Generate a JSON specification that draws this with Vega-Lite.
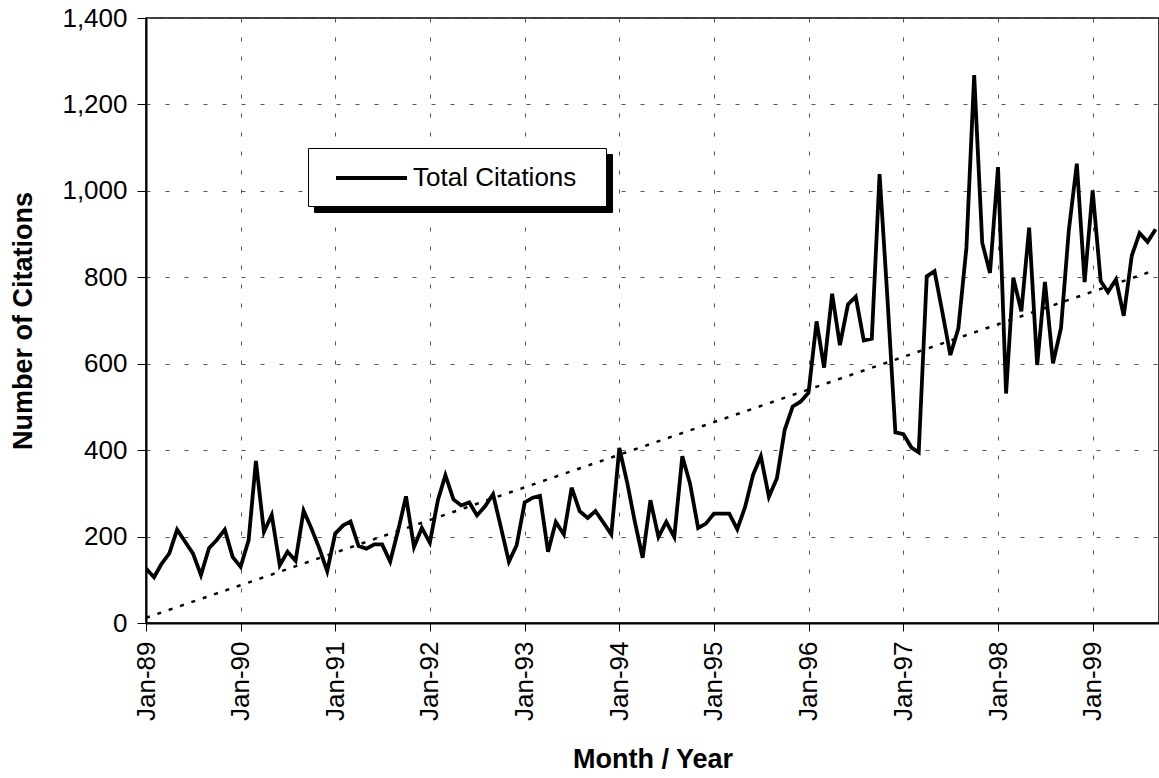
{
  "$schema": "https://vega.github.io/schema/vega-lite/v6.json",
  "width": 1013,
  "height": 605,
  "autosize": {"type": "none"},
  "padding": {"left": 146, "top": 18, "right": 0, "bottom": 155},
  "background": "white",
  "config": {
    "font": "Liberation Sans",
    "view": {"stroke": "black", "strokeWidth": 1.5},
    "axis": {
      "domainColor": "black",
      "domainWidth": 2,
      "tickColor": "black",
      "tickWidth": 1,
      "labelColor": "black",
      "titleColor": "black",
      "labelFont": "Liberation Sans",
      "titleFont": "Liberation Sans",
      "labelFontSize": 26,
      "titleFontSize": 27,
      "titleFontWeight": "bold",
      "grid": true,
      "gridColor": "#555555",
      "gridDash": [4, 15],
      "gridWidth": 1
    }
  },
  "datasets": {
    "citations": [
      {"date": "1989/01/01", "citations": 126},
      {"date": "1989/02/01", "citations": 106},
      {"date": "1989/03/01", "citations": 136},
      {"date": "1989/04/01", "citations": 161},
      {"date": "1989/05/01", "citations": 216},
      {"date": "1989/06/01", "citations": 188},
      {"date": "1989/07/01", "citations": 161},
      {"date": "1989/08/01", "citations": 111},
      {"date": "1989/09/01", "citations": 173},
      {"date": "1989/10/01", "citations": 192},
      {"date": "1989/11/01", "citations": 216},
      {"date": "1989/12/01", "citations": 153},
      {"date": "1990/01/01", "citations": 130},
      {"date": "1990/02/01", "citations": 192},
      {"date": "1990/03/01", "citations": 375},
      {"date": "1990/04/01", "citations": 211},
      {"date": "1990/05/01", "citations": 250},
      {"date": "1990/06/01", "citations": 134},
      {"date": "1990/07/01", "citations": 165},
      {"date": "1990/08/01", "citations": 144},
      {"date": "1990/09/01", "citations": 260},
      {"date": "1990/10/01", "citations": 219},
      {"date": "1990/11/01", "citations": 172},
      {"date": "1990/12/01", "citations": 120},
      {"date": "1991/01/01", "citations": 207},
      {"date": "1991/02/01", "citations": 226},
      {"date": "1991/03/01", "citations": 235},
      {"date": "1991/04/01", "citations": 178},
      {"date": "1991/05/01", "citations": 172},
      {"date": "1991/06/01", "citations": 182},
      {"date": "1991/07/01", "citations": 182},
      {"date": "1991/08/01", "citations": 142},
      {"date": "1991/09/01", "citations": 215},
      {"date": "1991/10/01", "citations": 293},
      {"date": "1991/11/01", "citations": 176},
      {"date": "1991/12/01", "citations": 220},
      {"date": "1992/01/01", "citations": 186},
      {"date": "1992/02/01", "citations": 284},
      {"date": "1992/03/01", "citations": 342},
      {"date": "1992/04/01", "citations": 286},
      {"date": "1992/05/01", "citations": 272},
      {"date": "1992/06/01", "citations": 279},
      {"date": "1992/07/01", "citations": 249},
      {"date": "1992/08/01", "citations": 270},
      {"date": "1992/09/01", "citations": 298},
      {"date": "1992/10/01", "citations": 222},
      {"date": "1992/11/01", "citations": 142},
      {"date": "1992/12/01", "citations": 180},
      {"date": "1993/01/01", "citations": 279},
      {"date": "1993/02/01", "citations": 290},
      {"date": "1993/03/01", "citations": 294},
      {"date": "1993/04/01", "citations": 165},
      {"date": "1993/05/01", "citations": 234},
      {"date": "1993/06/01", "citations": 205},
      {"date": "1993/07/01", "citations": 313},
      {"date": "1993/08/01", "citations": 259},
      {"date": "1993/09/01", "citations": 243},
      {"date": "1993/10/01", "citations": 259},
      {"date": "1993/11/01", "citations": 232},
      {"date": "1993/12/01", "citations": 205},
      {"date": "1994/01/01", "citations": 405},
      {"date": "1994/02/01", "citations": 323},
      {"date": "1994/03/01", "citations": 237},
      {"date": "1994/04/01", "citations": 151},
      {"date": "1994/05/01", "citations": 284},
      {"date": "1994/06/01", "citations": 199},
      {"date": "1994/07/01", "citations": 234},
      {"date": "1994/08/01", "citations": 199},
      {"date": "1994/09/01", "citations": 386},
      {"date": "1994/10/01", "citations": 322},
      {"date": "1994/11/01", "citations": 220},
      {"date": "1994/12/01", "citations": 230},
      {"date": "1995/01/01", "citations": 253},
      {"date": "1995/02/01", "citations": 253},
      {"date": "1995/03/01", "citations": 253},
      {"date": "1995/04/01", "citations": 217},
      {"date": "1995/05/01", "citations": 268},
      {"date": "1995/06/01", "citations": 343},
      {"date": "1995/07/01", "citations": 386},
      {"date": "1995/08/01", "citations": 292},
      {"date": "1995/09/01", "citations": 335},
      {"date": "1995/10/01", "citations": 447},
      {"date": "1995/11/01", "citations": 501},
      {"date": "1995/12/01", "citations": 512},
      {"date": "1996/01/01", "citations": 533},
      {"date": "1996/02/01", "citations": 698},
      {"date": "1996/03/01", "citations": 591},
      {"date": "1996/04/01", "citations": 762},
      {"date": "1996/05/01", "citations": 643},
      {"date": "1996/06/01", "citations": 737},
      {"date": "1996/07/01", "citations": 755},
      {"date": "1996/08/01", "citations": 654},
      {"date": "1996/09/01", "citations": 658},
      {"date": "1996/10/01", "citations": 1039},
      {"date": "1996/11/01", "citations": 745},
      {"date": "1996/12/01", "citations": 441},
      {"date": "1997/01/01", "citations": 437},
      {"date": "1997/02/01", "citations": 406},
      {"date": "1997/03/01", "citations": 395},
      {"date": "1997/04/01", "citations": 802},
      {"date": "1997/05/01", "citations": 814},
      {"date": "1997/06/01", "citations": 717},
      {"date": "1997/07/01", "citations": 620},
      {"date": "1997/08/01", "citations": 682},
      {"date": "1997/09/01", "citations": 868},
      {"date": "1997/10/01", "citations": 1268},
      {"date": "1997/11/01", "citations": 880},
      {"date": "1997/12/01", "citations": 810},
      {"date": "1998/01/01", "citations": 1055},
      {"date": "1998/02/01", "citations": 531},
      {"date": "1998/03/01", "citations": 799},
      {"date": "1998/04/01", "citations": 721},
      {"date": "1998/05/01", "citations": 915},
      {"date": "1998/06/01", "citations": 597},
      {"date": "1998/07/01", "citations": 789},
      {"date": "1998/08/01", "citations": 601},
      {"date": "1998/09/01", "citations": 683},
      {"date": "1998/10/01", "citations": 908},
      {"date": "1998/11/01", "citations": 1063},
      {"date": "1998/12/01", "citations": 789},
      {"date": "1999/01/01", "citations": 1001},
      {"date": "1999/02/01", "citations": 791},
      {"date": "1999/03/01", "citations": 766},
      {"date": "1999/04/01", "citations": 795},
      {"date": "1999/05/01", "citations": 711},
      {"date": "1999/06/01", "citations": 850},
      {"date": "1999/07/01", "citations": 902},
      {"date": "1999/08/01", "citations": 882},
      {"date": "1999/09/01", "citations": 911}
    ],
    "trend": [
      {"date": "1989/01/01", "trend": 12},
      {"date": "1999/09/01", "trend": 817}
    ]
  },
  "layer": [
    {
      "data": {"name": "trend"},
      "mark": {"type": "line", "strokeWidth": 2.5, "strokeCap": "butt", "strokeDash": [4, 8], "clip": true},
      "encoding": {
        "x": {
          "field": "date",
          "type": "temporal",
          "scale": {"domain": [{"year": 1989, "month": 1, "date": 1}, {"year": 1999, "month": 9, "date": 14}]},
          "axis": {
            "title": "Month / Year",
            "values": [
              {"year": 1989, "month": 1, "date": 1},
              {"year": 1990, "month": 1, "date": 1},
              {"year": 1991, "month": 1, "date": 1},
              {"year": 1992, "month": 1, "date": 1},
              {"year": 1993, "month": 1, "date": 1},
              {"year": 1994, "month": 1, "date": 1},
              {"year": 1995, "month": 1, "date": 1},
              {"year": 1996, "month": 1, "date": 1},
              {"year": 1997, "month": 1, "date": 1},
              {"year": 1998, "month": 1, "date": 1},
              {"year": 1999, "month": 1, "date": 1}
            ],
            "format": "%b-%y",
            "labelAngle": -90,
            "labelFlush": false,
            "labelOverlap": false,
            "tickSize": 8,
            "labelPadding": 10,
            "titlePadding": 26
          }
        },
        "y": {
          "field": "trend",
          "type": "quantitative",
          "scale": {"domain": [0, 1400], "nice": false},
          "axis": {
            "title": "Number of Citations",
            "values": [0, 200, 400, 600, 800, 1000, 1200, 1400],
            "format": ",.0f",
            "tickSize": 9,
            "labelPadding": 10,
            "titlePadding": 24
          }
        },
        "color": {"value": "black"},
        "opacity": {
          "datum": "shadow",
          "type": "nominal",
          "scale": {"range": [1]},
          "legend": {
            "title": null,
            "labelExpr": "''",
            "orient": "none",
            "legendX": 168,
            "legendY": 136,
            "fillColor": "black",
            "strokeColor": "black",
            "padding": 15,
            "symbolType": "M-2.73,0H2.73M16.2,0",
            "symbolSize": 676,
            "symbolStrokeWidth": 4,
            "symbolStrokeColor": "black",
            "symbolFillColor": "transparent",
            "symbolOffset": 33.5,
            "labelFontSize": 26,
            "labelColor": "black",
            "labelOffset": 26.5,
            "labelLimit": 400,
            "zindex": 1
          }
        }
      }
    },
    {
      "data": {"name": "citations"},
      "mark": {"type": "line", "strokeWidth": 3.8, "strokeJoin": "miter", "clip": true},
      "encoding": {
        "x": {"field": "date", "type": "temporal"},
        "y": {
          "field": "citations",
          "type": "quantitative",
          "title": "Number of Citations"
        },
        "color": {
          "datum": "Total Citations",
          "type": "nominal",
          "scale": {"range": ["black"]},
          "legend": {
            "title": null,
            "orient": "none",
            "legendX": 162,
            "legendY": 130,
            "fillColor": "white",
            "strokeColor": "black",
            "padding": 15,
            "symbolType": "M-2.73,0H2.73M16.2,0",
            "symbolSize": 676,
            "symbolStrokeWidth": 4,
            "symbolFillColor": "transparent",
            "symbolOffset": 33.5,
            "labelFontSize": 26,
            "labelColor": "black",
            "labelOffset": 26.5,
            "labelLimit": 400,
            "zindex": 2
          }
        }
      }
    }
  ]
}
